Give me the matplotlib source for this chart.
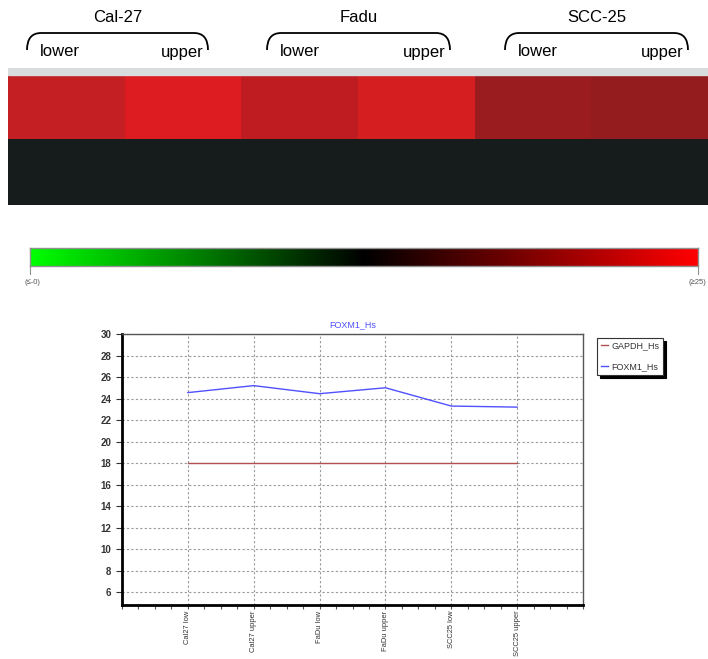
import numpy as np
import matplotlib
matplotlib.use("Agg")
import matplotlib.pyplot as plt
from matplotlib.colors import LinearSegmentedColormap, to_rgb
from matplotlib.path import Path
from matplotlib.patches import PathPatch, Rectangle

# data
cell_lines = ["Cal-27", "Fadu", "SCC-25"]
sub_labels = ["lower", "upper"]
samples = ["Cal27 low", "Cal27 upper", "FaDu low", "FaDu upper", "SCC25 low", "SCC25 upper"]
# heatmap cell colours (row 1: FOXM1, row 2: GAPDH)
heat_row1 = ["#c41f22", "#dc1c20", "#be1c20", "#d41e20", "#9a1c1e", "#941c1e"]
heat_row2 = ["#161c1c", "#161c1c", "#161c1c", "#161c1c", "#161c1c", "#161c1c"]
scale_labels = ["(≤-0)", "(≥25)"]
gapdh = [18.0, 18.0, 18.0, 18.0, 18.0, 18.0]
foxm1 = [24.55, 25.2, 24.45, 25.0, 23.3, 23.2]

W, H = 708, 659
fig = plt.figure(figsize=(W / 100, H / 100), dpi=100)
plt.rcParams['font.family'] = ['Liberation Sans', 'DejaVu Sans']


def fx(x):
    return x / W


def fy(y):
    return 1 - y / H


# ---- heatmap ----
ax_h = fig.add_axes([fx(8), fy(205), fx(700), 137 / H])
img = np.array([[to_rgb(c) for c in heat_row1], [to_rgb(c) for c in heat_row2]])
ax_h.imshow(img, aspect="auto", interpolation="nearest", extent=(0, 6, 2, 0))
ax_h.set_xlim(0, 6)
ax_h.set_ylim(2, -0.1)
ax_h.axis("off")
ax_h.add_patch(Rectangle((0, -0.1), 6, 0.1, color="#d8dcdc", zorder=0))

# group labels and brackets
groups_x = [(27, 208), (267, 450), (505, 688)]
for name, (x0, x1) in zip(cell_lines, groups_x):
    xc = (x0 + x1) / 2
    fig.text(fx(xc), fy(18), name, ha="center", va="center", fontsize=12)
    verts = [(x0, 50), (x0, 33), (x0 + 14, 33), (x0 + 14, 33), (x1 - 14, 33),
             (x1 - 14, 33), (x1, 33), (x1, 50)]
    verts = [(fx(a), fy(b)) for a, b in verts]
    codes = [Path.MOVETO, Path.CURVE3, Path.CURVE3, Path.MOVETO, Path.LINETO,
             Path.MOVETO, Path.CURVE3, Path.CURVE3]
    fig.patches.append(PathPatch(Path(verts, codes), transform=fig.transFigure,
                                 fill=False, lw=1.3, color="black"))
    fig.text(fx(x0 + 33), fy(52), sub_labels[0], ha="center", va="center", fontsize=12)
    fig.text(fx(x1 - 26), fy(52), sub_labels[1], ha="center", va="center", fontsize=12)

# ---- colour scale ----
ax_c = fig.add_axes([fx(30), fy(266), fx(668), 18 / H])
cmap = LinearSegmentedColormap.from_list("gr", ["#00ff00", "#000000", "#ff0000"])
ax_c.imshow(np.linspace(0, 1, 256)[None, :], aspect="auto", cmap=cmap, extent=(0, 1, 0, 1))
ax_c.set_xticks([])
ax_c.set_yticks([])
for s in ax_c.spines.values():
    s.set_color("#909090")
    s.set_linewidth(1)
fig.lines.append(plt.Line2D([fx(30), fx(30)], [fy(266), fy(274)], transform=fig.transFigure,
                            color="#909090", lw=0.8))
fig.lines.append(plt.Line2D([fx(698), fx(698)], [fy(266), fy(274)], transform=fig.transFigure,
                            color="#909090", lw=0.8))
fig.text(fx(32), fy(283), scale_labels[0], ha="center", va="center", fontsize=5.5, color="#555555")
fig.text(fx(697), fy(283), scale_labels[1], ha="center", va="center", fontsize=5.5, color="#555555")

# ---- line chart ----
ax = fig.add_axes([fx(122), fy(605), fx(461), 271 / H])
xs = np.arange(1, len(samples) + 1)
ax.plot(xs, gapdh, color="#b05050", lw=1, label="GAPDH_Hs")
ax.plot(xs, foxm1, color="#5050ff", lw=1, label="FOXM1_Hs")
ax.set_xlim(0, 7)
ax.set_ylim(4.8, 30)
ax.set_yticks(np.arange(6, 31, 2))
ax.set_xticks(xs)
ax.set_xticks(np.arange(0, 7.01, 0.25), minor=True)
ax.set_xticklabels(samples, rotation=90, fontsize=5.4, color="#333333")
ax.tick_params(axis="y", labelsize=7, colors="#333333", length=4, width=0.8)
ax.tick_params(axis="x", which="both", length=3, width=0.8, colors="#555555", pad=1)
ax.tick_params(axis="x", which="major", labelcolor="#333333")
ax.grid(True, which="major", color="#999999", ls=(0, (2, 2)), lw=0.8)
for lab in ax.get_yticklabels():
    lab.set_fontweight("bold")
ax.spines["left"].set_linewidth(2)
ax.spines["bottom"].set_linewidth(2)
ax.spines["top"].set_color("#555555")
ax.spines["right"].set_color("#555555")
ax.spines["top"].set_linewidth(1)
ax.spines["right"].set_linewidth(1)
ax.set_title("FOXM1_Hs", color="#5050ff", fontsize=6.5, pad=5)

leg = ax.legend(loc="upper left", bbox_to_anchor=(fx(597), fy(338)), bbox_transform=fig.transFigure,
                fontsize=6.5, frameon=True, fancybox=False,
                shadow={"color": "black", "alpha": 1, "ox": 2, "oy": -2},
                handlelength=0.8, labelspacing=1.3, borderpad=0.4, handletextpad=0.4,
                borderaxespad=0)
leg.get_frame().set_edgecolor("#333333")
leg.get_frame().set_linewidth(0.8)
for t in leg.get_texts():
    t.set_color("#333333")

fig.savefig("out.png", dpi=100)
